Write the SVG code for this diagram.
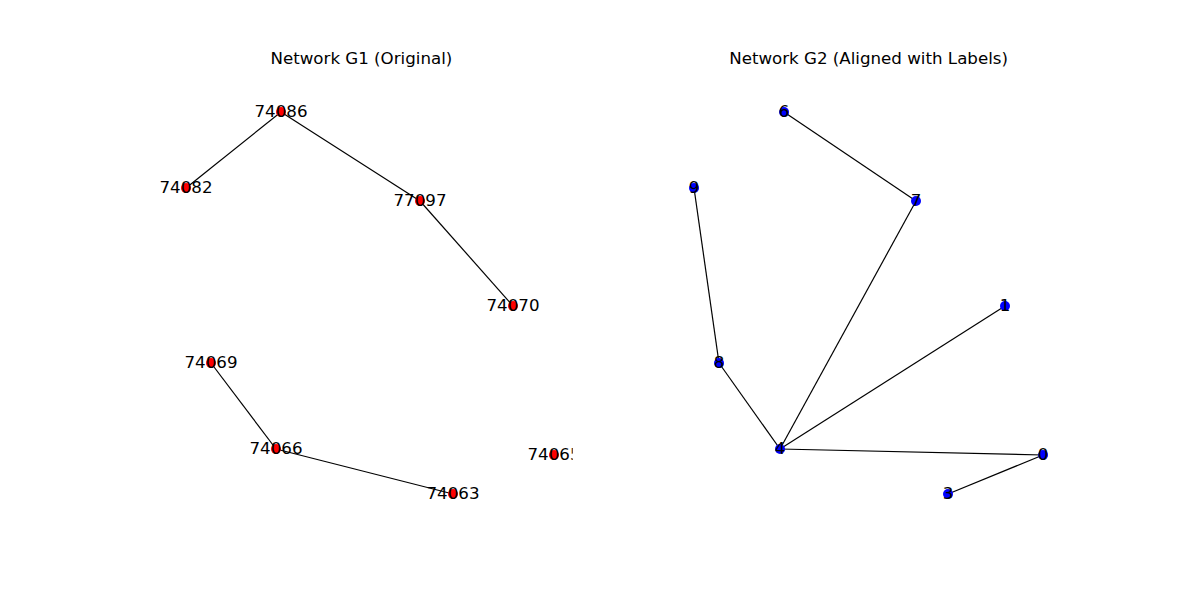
<svg xmlns="http://www.w3.org/2000/svg" width="1200" height="600" viewBox="0 0 1200 600">
<style>
.t{font-family:"DejaVu Sans",sans-serif;font-size:16.67px;fill:#000;text-anchor:middle}
.lbl{font-family:"DejaVu Sans",sans-serif;font-size:16.67px;fill:#000;text-anchor:middle}
.e line{stroke:#000;stroke-width:1.2}
.r{fill:#ff0000}
.b{fill:#0000ff}
</style>
<defs>
<clipPath id="c1"><rect x="150" y="72" width="422.7" height="456"/></clipPath>
<clipPath id="c2"><rect x="657.3" y="72" width="422.7" height="456"/></clipPath>
</defs>
<rect width="1200" height="600" fill="#fff"/>
<text class="t" x="361.4" y="64">Network G1 (Original)</text>
<text class="t" x="868.6" y="64">Network G2 (Aligned with Labels)</text>
<g clip-path="url(#c1)">
<g id="edges1" class="e">
<line x1="281" y1="112" x2="186" y2="188"/>
<line x1="281" y1="112" x2="420" y2="201"/>
<line x1="420" y1="201" x2="513" y2="306"/>
<line x1="211" y1="363" x2="276" y2="449"/>
<line x1="276" y1="449" x2="453" y2="494"/>
</g>
<g id="n74086"><circle class="r" cx="281" cy="112" r="5"/><text class="lbl" x="281" y="117">74086</text></g>
<g id="n74082"><circle class="r" cx="186" cy="188" r="5"/><text class="lbl" x="186" y="193">74082</text></g>
<g id="n77097"><circle class="r" cx="420" cy="201" r="5"/><text class="lbl" x="420" y="206">77097</text></g>
<g id="n74070"><circle class="r" cx="513" cy="306" r="5"/><text class="lbl" x="513" y="311">74070</text></g>
<g id="n74069"><circle class="r" cx="211" cy="363" r="5"/><text class="lbl" x="211" y="368">74069</text></g>
<g id="n74066"><circle class="r" cx="276" cy="449" r="5"/><text class="lbl" x="276" y="454">74066</text></g>
<g id="n74063"><circle class="r" cx="453" cy="494" r="5"/><text class="lbl" x="453" y="499">74063</text></g>
<g id="n74065"><circle class="r" cx="554" cy="455" r="5"/><text class="lbl" x="554" y="460">74065</text></g>
</g>
<g clip-path="url(#c2)">
<g id="edges2" class="e">
<line x1="784" y1="112" x2="916" y2="201"/>
<line x1="694" y1="188" x2="719" y2="363"/>
<line x1="719" y1="363" x2="780" y2="449"/>
<line x1="780" y1="449" x2="916" y2="201"/>
<line x1="780" y1="449" x2="1005" y2="306"/>
<line x1="780" y1="449" x2="1043" y2="455"/>
<line x1="1043" y1="455" x2="948" y2="494"/>
</g>
<g id="n6"><circle class="b" cx="784" cy="112" r="5"/><text class="lbl" x="784" y="117">6</text></g>
<g id="n9"><circle class="b" cx="694" cy="188" r="5"/><text class="lbl" x="694" y="193">9</text></g>
<g id="n7"><circle class="b" cx="916" cy="201" r="5"/><text class="lbl" x="916" y="206">7</text></g>
<g id="n1"><circle class="b" cx="1005" cy="306" r="5"/><text class="lbl" x="1005" y="311">1</text></g>
<g id="n8"><circle class="b" cx="719" cy="363" r="5"/><text class="lbl" x="719" y="368">8</text></g>
<g id="n4"><circle class="b" cx="780" cy="449" r="5"/><text class="lbl" x="780" y="454">4</text></g>
<g id="n0"><circle class="b" cx="1043" cy="455" r="5"/><text class="lbl" x="1043" y="460">0</text></g>
<g id="n3"><circle class="b" cx="948" cy="494" r="5"/><text class="lbl" x="948" y="499">3</text></g>
</g>
</svg>
